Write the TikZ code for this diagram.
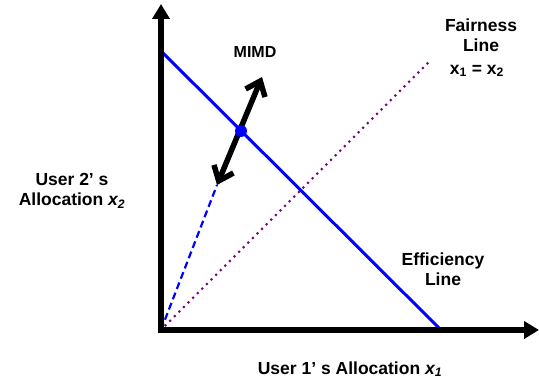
\documentclass[tikz,border=0pt]{standalone}
\usepackage{fontspec}
\setmainfont{Liberation Sans}
\usetikzlibrary{arrows.meta}
\definecolor{fairpurple}{RGB}{128,0,128}
\begin{document}
\begin{tikzpicture}[x=1pt,y=-1pt,
  lbl/.style={font=\bfseries\fontsize{17.5}{20.5}\selectfont, align=center, inner sep=0pt},
  axis/.style={line width=6pt, -{Triangle[length=15pt,width=17pt]}},
  effline/.style={blue, line width=3pt},
  fairline/.style={fairpurple, line width=3pt, line cap=round, dash pattern=on 0pt off 6.5pt},
  mimd/.style={line width=5.5pt, {Straight Barb[length=13pt,width=21pt]}-{Straight Barb[length=13pt,width=21pt]}},
  traj/.style={blue, line width=2.2pt, dash pattern=on 7pt off 4pt}]
\useasboundingbox (0,0) rectangle (539,387);
\coordinate (O) at (161,330);
\coordinate (Ytop) at (161,4);
\coordinate (Xend) at (539,330);
\coordinate (E1) at (161,51);
\coordinate (E2) at (441,330);
\coordinate (F2) at (432,59);
\coordinate (A) at (217,185);
\coordinate (B) at (262,77);
\draw[fairline] (O) -- (F2);
\draw[traj] (O) -- (A);
\draw[effline] (E1) -- (E2);
\draw[axis] (161,333) -- (Ytop);
\draw[axis] (158,330) -- (Xend);
\draw[mimd] (A) -- (B);
\node[circle, fill=blue, inner sep=0pt, minimum size=12pt] (P) at (241,131) {};
\node[lbl, font=\bfseries\fontsize{16}{19}\selectfont] (mimdl) at (255,52) {MIMD};
\node[lbl] (fair) at (481,35) {Fairness\\Line};
\node[lbl] (fx) at (477,71) {x\textsubscript{1} = x\textsubscript{2}};
\node[lbl] (u2) at (72,190.5) {User 2’ s\\Allocation \textit{x\textsubscript{2}}};
\node[lbl] (eff) at (443,269) {Efficiency\\Line};
\node[lbl] (u1) at (350,369) {User 1’ s Allocation \textit{x\textsubscript{1}}};
\end{tikzpicture}
\end{document}
